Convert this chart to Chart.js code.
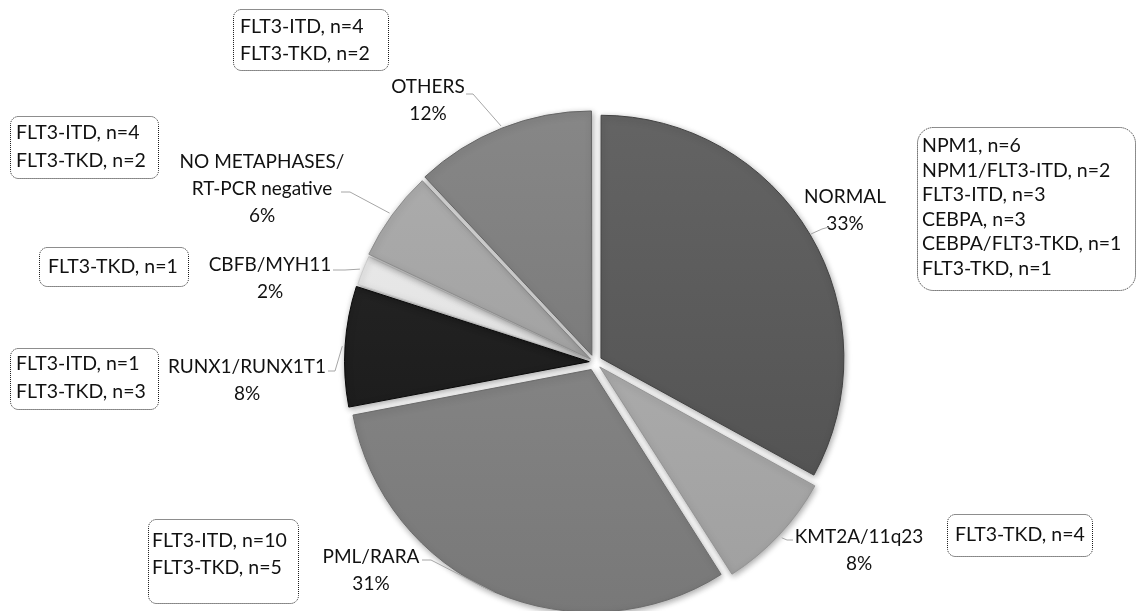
<!DOCTYPE html>
<html>
<head>
<meta charset="utf-8">
<script src="https://cdn.jsdelivr.net/npm/chart.js@4.4.1/dist/chart.umd.min.js"></script>
<style>
  html, body { margin: 0; padding: 0; background: #ffffff; }
  #wrap { position: relative; width: 1137px; height: 611px; }
</style>
</head>
<body>
<div id="wrap"><canvas id="c"></canvas></div>
<script>
// Cytogenetic groups, clockwise from 12 o'clock
const categories = ['NORMAL', 'KMT2A/11q23', 'PML/RARA', 'RUNX1/RUNX1T1', 'CBFB/MYH11', 'NO METAPHASES/\nRT-PCR negative', 'OTHERS'];
const percentValues = [33, 8, 31, 8, 2, 6, 12];

// Mutation breakdown shown in the dotted call-out next to each group
const mutationNotes = [
  ['NPM1, n=6', 'NPM1/FLT3-ITD, n=2', 'FLT3-ITD, n=3', 'CEBPA, n=3', 'CEBPA/FLT3-TKD, n=1', 'FLT3-TKD, n=1'],
  ['FLT3-TKD, n=4'],
  ['FLT3-ITD, n=10', 'FLT3-TKD, n=5'],
  ['FLT3-ITD, n=1', 'FLT3-TKD, n=3'],
  ['FLT3-TKD, n=1'],
  ['FLT3-ITD, n=4', 'FLT3-TKD, n=2'],
  ['FLT3-ITD, n=4', 'FLT3-TKD, n=2']
];

// Styling
const sliceColors = ['#585858', '#a9a9a9', '#828282', '#1e1e1e', '#e2e2e2', '#a2a2a2', '#7b7b7b'];
const sliceOffsets = [30, 29, 33, 21, 15, 20, 29];
const LABEL_FONT = '19px Lato';
const NOTE_FONT = '19.5px Lato';
const TEXT = '#111111';
const LINE_H = 27;

// Label placement: centre of the first text line and leader start / elbow
const labelLayout = [
  { cx: 845, cy: 197, from: [829, 227], elbow: [822, 229] },
  { cx: 859, cy: 537, from: [793, 540], elbow: [787, 540] },
  { cx: 371, cy: 557, from: [422, 560], elbow: [431, 560] },
  { cx: 247, cy: 367, from: [328, 371], elbow: [335, 371] },
  { cx: 270, cy: 265, from: [333, 270], elbow: [345, 270] },
  { cx: 262, cy: 162, from: [341, 192], elbow: [350, 192] },
  { cx: 428, cy: 87,  from: [466, 94],  elbow: [473, 94] }
];
// Call-out boxes: x, y, w, h, corner radius, text left, first line y, line step
const boxLayout = [
  { x: 917, y: 127, w: 218, h: 163, r: 16, tx: 922, ty: 146, lh: 24.5 },
  { x: 947, y: 514, w: 145, h: 42,  r: 8,  tx: 955, ty: 535, lh: 26 },
  { x: 148, y: 519, w: 150, h: 84,  r: 8,  tx: 152, ty: 541, lh: 27 },
  { x: 10,  y: 348, w: 148, h: 61,  r: 8,  tx: 16,  ty: 364, lh: 28 },
  { x: 39,  y: 247, w: 149, h: 39,  r: 8,  tx: 48,  ty: 267, lh: 26 },
  { x: 10,  y: 116, w: 148, h: 62,  r: 8,  tx: 16,  ty: 133, lh: 28 },
  { x: 233, y: 9,   w: 155, h: 61,  r: 8,  tx: 240, ty: 27,  lh: 27 }
];

function shade(hex, amt) {
  const n = parseInt(hex.slice(1), 16);
  const c = [(n >> 16) & 255, (n >> 8) & 255, n & 255].map(v => Math.max(0, Math.min(255, v + amt)));
  return 'rgb(' + c.join(',') + ')';
}

function sliceFill(ctx) {
  const base = sliceColors[ctx.dataIndex];
  const area = ctx.chart.chartArea;
  if (!area) return base;
  const g = ctx.chart.ctx.createLinearGradient(0, 110, 0, 610);
  g.addColorStop(0, shade(base, 12));
  g.addColorStop(1, shade(base, -10));
  return g;
}

// Outer point of a slice at its mid angle, following the arc's own offset
function sliceEdgePoint(arc) {
  const p = arc.getProps(['x', 'y', 'startAngle', 'endAngle', 'outerRadius'], true);
  const off = (arc.options.offset || 0) / 4;
  const circ = p.endAngle - p.startAngle;
  const fix = 1 - Math.sin(Math.min(Math.PI, circ));
  const mid = (p.startAngle + p.endAngle) / 2;
  const shift = off * (1 + fix);
  const r = p.outerRadius + off * fix;
  return [p.x + Math.cos(mid) * (shift + r), p.y + Math.sin(mid) * (shift + r)];
}

const shadowPlugin = {
  id: 'sliceShadow',
  beforeDatasetsDraw(chart) {
    const ctx = chart.ctx;
    ctx.save();
    ctx.shadowColor = 'rgba(0,0,0,0.35)';
    ctx.shadowBlur = 6;
    ctx.shadowOffsetX = 1;
    ctx.shadowOffsetY = 2;
  },
  afterDatasetsDraw(chart) {
    chart.ctx.restore();
  }
};

function roundRect(ctx, x, y, w, h, r) {
  ctx.beginPath();
  ctx.moveTo(x + r, y);
  ctx.lineTo(x + w - r, y);
  ctx.arcTo(x + w, y, x + w, y + r, r);
  ctx.lineTo(x + w, y + h - r);
  ctx.arcTo(x + w, y + h, x + w - r, y + h, r);
  ctx.lineTo(x + r, y + h);
  ctx.arcTo(x, y + h, x, y + h - r, r);
  ctx.lineTo(x, y + r);
  ctx.arcTo(x, y, x + r, y, r);
  ctx.closePath();
}

const labelPlugin = {
  id: 'groupLabels',
  afterDatasetsDraw(chart) {
    const ctx = chart.ctx;
    const meta = chart.getDatasetMeta(0);
    const values = chart.data.datasets[0].data;
    const total = values.reduce((a, b) => a + b, 0);
    ctx.save();
    ctx.fillStyle = TEXT;
    ctx.textBaseline = 'middle';

    meta.data.forEach((arc, i) => {
      const lay = labelLayout[i];
      const lines = chart.data.labels[i].split('\n');
      lines.push(Math.round(values[i] / total * 100) + '%');
      ctx.font = LABEL_FONT;
      ctx.textAlign = 'center';
      lines.forEach((t, k) => ctx.fillText(t, lay.cx, lay.cy + k * LINE_H));

      // leader line
      const end = sliceEdgePoint(arc);
      ctx.save();
      ctx.strokeStyle = '#a6a6a6';
      ctx.lineWidth = 1;
      ctx.beginPath();
      ctx.moveTo(lay.from[0], lay.from[1]);
      ctx.lineTo(lay.elbow[0], lay.elbow[1]);
      ctx.lineTo(end[0], end[1]);
      ctx.stroke();
      ctx.restore();

      // call-out box
      const b = boxLayout[i];
      ctx.save();
      ctx.strokeStyle = '#1a1a1a';
      ctx.lineWidth = 1;
      ctx.setLineDash([1, 1]);
      roundRect(ctx, b.x + 0.5, b.y + 0.5, b.w, b.h, b.r);
      ctx.stroke();
      ctx.restore();
      ctx.font = NOTE_FONT;
      ctx.textAlign = 'left';
      mutationNotes[i].forEach((t, k) => ctx.fillText(t, b.tx, b.ty + k * b.lh));
    });
    ctx.restore();
  }
};

new Chart(document.getElementById('c'), {
  type: 'pie',
  data: {
    labels: categories,
    datasets: [{
      data: percentValues,
      backgroundColor: sliceFill,
      borderColor: sliceColors.map(c => shade(c, -22)),
      borderWidth: 1,
      offset: sliceOffsets,
      radius: 242,
      clip: false
    }]
  },
  options: {
    responsive: true,
    maintainAspectRatio: false,
    animation: false,
    events: [],
    layout: { padding: { left: 52, right: 0, top: 113, bottom: 0 } },
    plugins: { legend: { display: false }, tooltip: { enabled: false } }
  },
  plugins: [shadowPlugin, labelPlugin]
});
</script>
</body>
</html>
